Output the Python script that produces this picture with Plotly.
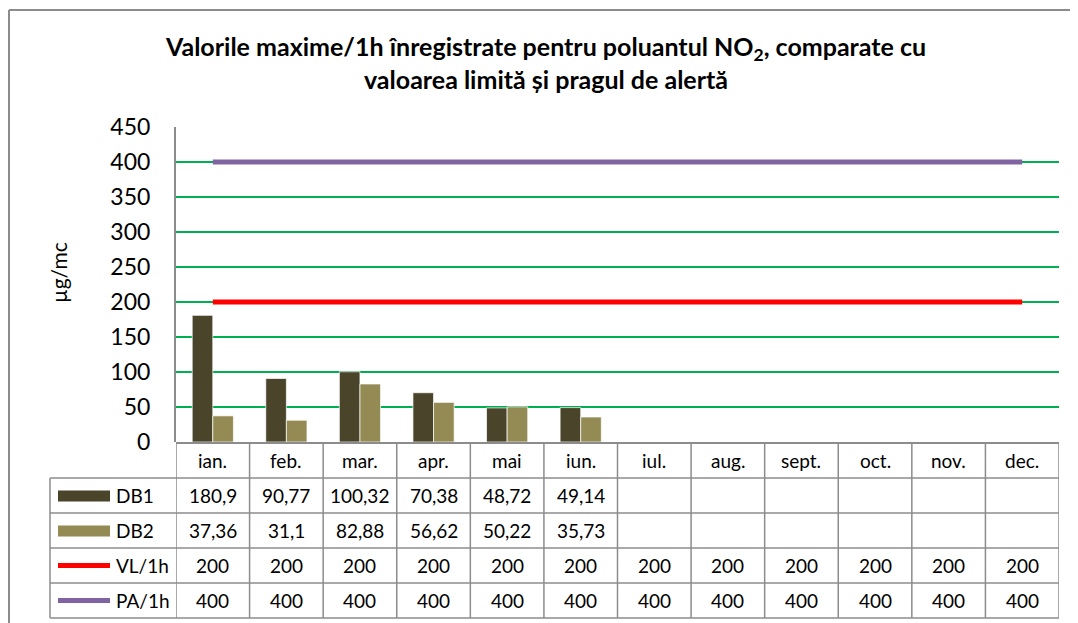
import plotly.graph_objects as go

months = ["ian.", "feb.", "mar.", "apr.", "mai", "iun.", "iul.", "aug.", "sept.", "oct.", "nov.", "dec."]
db1 = [180.9, 90.77, 100.32, 70.38, 48.72, 49.14, None, None, None, None, None, None]
db2 = [37.36, 31.1, 82.88, 56.62, 50.22, 35.73, None, None, None, None, None, None]
vl = [200] * 12
pa = [400] * 12
series_names = ["DB1", "DB2", "VL/1h", "PA/1h"]
y_ticks = [0, 50, 100, 150, 200, 250, 300, 350, 400, 450]

C_DB1 = "#4A442A"
C_DB2 = "#948A54"
C_VL = "#FF0000"
C_PA = "#8064A2"
GRID = "#00B050"
GREY = "#8C8C8C"
FONT = "Lato, 'Open Sans', sans-serif"

OFF = 8  # page body margin
W, H = 1078 - OFF, 623 - OFF
L, R, T, B = 176, 1059, 127, 442  # plot area in reference pixels


def px(xp):
    return (xp - L) / (R - L)


def py(yp):
    return (B - yp) / (B - T)


fig = go.Figure()
fig.add_trace(go.Bar(x=months, y=db1, name="DB1", marker=dict(color=C_DB1, line=dict(color="rgba(255,255,255,0.7)", width=1))))
fig.add_trace(go.Bar(x=months, y=db2, name="DB2", marker=dict(color=C_DB2, line=dict(color="rgba(255,255,255,0.7)", width=1))))
fig.add_trace(go.Scatter(x=months, y=vl, name="VL/1h", mode="lines", line=dict(color=C_VL, width=5)))
fig.add_trace(go.Scatter(x=months, y=pa, name="PA/1h", mode="lines", line=dict(color=C_PA, width=5)))

shapes = []
annotations = []

# outer chart border (top and left edges visible)
shapes.append(dict(type="line", xref="paper", yref="paper", x0=px(OFF + 1), x1=px(1100), y0=py(10), y1=py(10),
                   line=dict(color=GREY, width=2)))
shapes.append(dict(type="line", xref="paper", yref="paper", x0=px(OFF + 1), x1=px(OFF + 1), y0=py(10), y1=py(640),
                   line=dict(color=GREY, width=2)))

row_lines = [443, 478, 513, 548, 583, 618]
label_left = 50
n = len(months)

shapes.append(dict(type="line", xref="paper", yref="paper", x0=0, x1=1, y0=py(row_lines[0]), y1=py(row_lines[0]),
                   line=dict(color=GREY, width=2)))
for yl in row_lines[1:]:
    shapes.append(dict(type="line", xref="paper", yref="paper", x0=px(label_left), x1=1, y0=py(yl), y1=py(yl),
                       line=dict(color=GREY, width=1.5)))
for i in range(n + 1):
    shapes.append(dict(type="line", xref="x", yref="paper", x0=i - 0.5, x1=i - 0.5, y0=py(row_lines[0]), y1=py(row_lines[-1]),
                       line=dict(color=GREY, width=1.5)))
shapes.append(dict(type="line", xref="paper", yref="paper", x0=px(label_left), x1=px(label_left), y0=py(row_lines[1]), y1=py(row_lines[-1]),
                   line=dict(color=GREY, width=1.5)))


def fmt(v):
    return f"{v:g}".replace(".", ",")


tfont = dict(family=FONT, size=19, color="#000000")
for i, m in enumerate(months):
    annotations.append(dict(x=i, y=py((row_lines[0] + row_lines[1]) / 2), xref="x", yref="paper", text=m,
                            showarrow=False, font=tfont, xanchor="center", yanchor="middle"))
rows = [db1, db2, vl, pa]
for r, vals in enumerate(rows):
    yc = py((row_lines[r + 1] + row_lines[r + 2]) / 2)
    for i, v in enumerate(vals):
        if v is None:
            continue
        annotations.append(dict(x=i, y=yc, xref="x", yref="paper", text=fmt(v), showarrow=False,
                                font=tfont, xanchor="center", yanchor="middle"))
    annotations.append(dict(x=px(114), y=yc, xref="paper", yref="paper", text=series_names[r], showarrow=False,
                            font=tfont, xanchor="left", yanchor="middle"))

key_colors = [C_DB1, C_DB2, C_VL, C_PA]
for r in range(4):
    yc = (row_lines[r + 1] + row_lines[r + 2]) / 2
    if r < 2:
        shapes.append(dict(type="rect", xref="paper", yref="paper", x0=px(58), x1=px(110), y0=py(yc - 5), y1=py(yc + 6),
                           fillcolor=key_colors[r], line=dict(width=0)))
    else:
        shapes.append(dict(type="line", xref="paper", yref="paper", x0=px(58), x1=px(110), y0=py(yc), y1=py(yc),
                           line=dict(color=key_colors[r], width=5)))

# title
annotations.append(dict(x=px(545), y=py(62), xref="paper", yref="paper",
                        text="<b>Valorile maxime/1h înregistrate pentru poluantul NO<sub>2</sub>, comparate cu<br>valoarea limită și pragul de alertă</b>",
                        showarrow=False, font=dict(family=FONT, size=25, color="#000000"), xanchor="center", yanchor="middle"))
# y axis title
annotations.append(dict(x=px(58), y=py(273), xref="paper", yref="paper", text="µg/mc", textangle=-90,
                        showarrow=False, font=dict(family=FONT, size=21, color="#000000"), xanchor="center", yanchor="middle"))

fig.update_layout(
    width=W, height=H,
    margin=dict(l=L - OFF, r=W - (R - OFF), t=T - OFF, b=H - (B - OFF), pad=0),
    paper_bgcolor="white", plot_bgcolor="white",
    barmode="group", bargap=0.44, bargroupgap=0,
    showlegend=False,
    shapes=shapes, annotations=annotations,
    font=dict(family=FONT, color="#000000"),
)
fig.update_xaxes(type="category", range=[-0.5, 11.5], showticklabels=False, showgrid=False, zeroline=False,
                 showline=False, ticks="")
fig.update_yaxes(range=[0, 450], tickvals=y_ticks, showgrid=True, gridcolor=GRID, gridwidth=2, zeroline=False,
                 showline=True, linecolor=GREY, linewidth=2, tickfont=dict(family=FONT, size=23), ticks="",
                 ticklabelstandoff=19)

fig.write_html("out.html")
